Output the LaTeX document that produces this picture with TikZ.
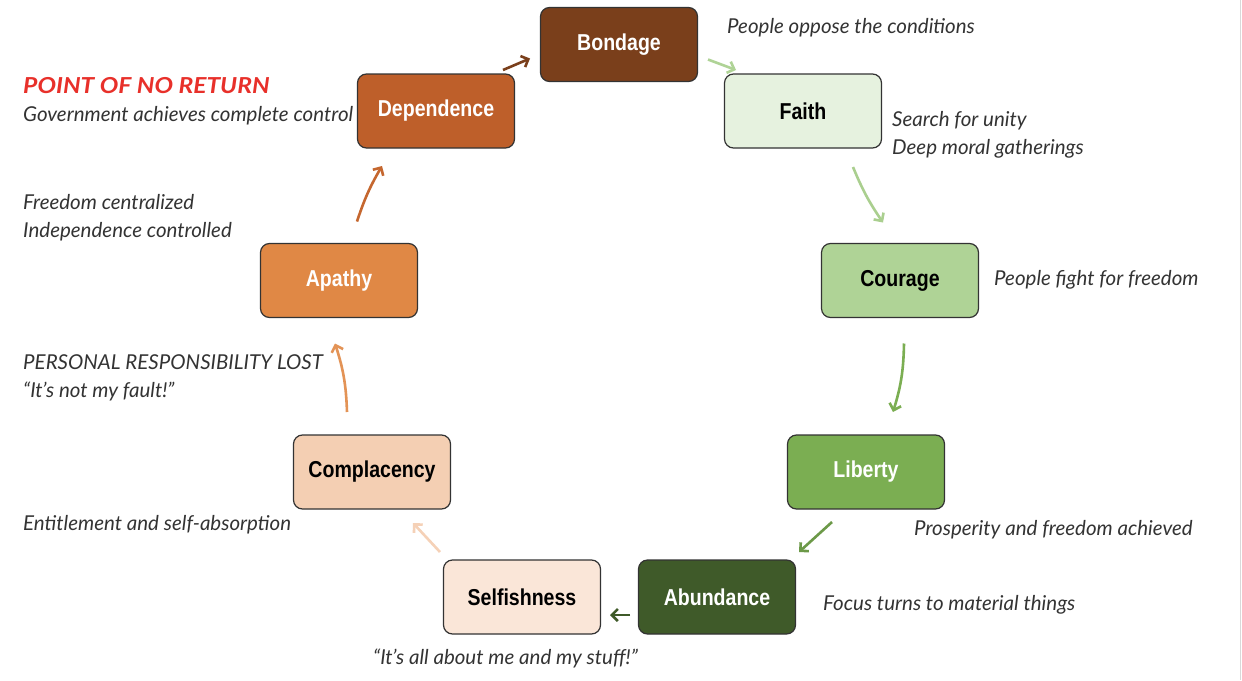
\documentclass[tikz,border=0pt]{standalone}
\usepackage{fontspec}
\usetikzlibrary{arrows.meta}
\newfontfamily\boxfont[FakeStretch=0.85]{Liberation Sans}
\newfontfamily\notefont{Lato}
\newfontfamily\returnfont[FakeStretch=1.12]{Lato}
\definecolor{bondageC}{HTML}{7A3F1B}
\definecolor{faithC}{HTML}{E6F2DF}
\definecolor{courageC}{HTML}{AFD396}
\definecolor{libertyC}{HTML}{7BAE52}
\definecolor{abundanceC}{HTML}{3F5A29}
\definecolor{selfishC}{HTML}{FAE6D8}
\definecolor{complacencyC}{HTML}{F4CFB3}
\definecolor{apathyC}{HTML}{E08845}
\definecolor{dependenceC}{HTML}{BE5F2A}
\definecolor{noteC}{HTML}{333333}
\definecolor{returnC}{HTML}{E8302A}

\begin{document}
\begin{tikzpicture}[x = 1pt, y = -1pt]
	\tikzstyle{stageStyle}=[shape = rectangle, rounded corners = 9pt, minimum width = 157pt, minimum height = 74pt, inner sep = 0pt, draw = black!80, line width = 1.2pt, font = \boxfont\bfseries\fontsize{23}{26}\selectfont]
	\tikzstyle{noteStyle}=[anchor = base west, align = left, inner sep = 0pt, text = noteC, font = \notefont\itshape\fontsize{20.5}{28}\selectfont]
	\tikzstyle{cycleArrow}=[line width = 2.6pt, -{Straight Barb[length = 6pt, width = 12pt]}]
	\fill[white] (0,0) rectangle (1242,680);
	\useasboundingbox (0,0) rectangle (1242,680);
	\draw[gray!30, line width = 1pt] (1240.5,0) -- (1240.5,680);
	% stages of the cycle
	\node[stageStyle, fill = bondageC, text = white] (bon) at (619,44.5) {Bondage};
	\node[stageStyle, fill = faithC] (fai) at (803,111) {Faith};
	\node[stageStyle, fill = courageC] (cou) at (900,280.5) {Courage};
	\node[stageStyle, fill = libertyC, text = white] (lib) at (866,472) {Liberty};
	\node[stageStyle, fill = abundanceC, text = white] (abu) at (717,597) {Abundance};
	\node[stageStyle, fill = selfishC] (sel) at (522,597) {Selfishness};
	\node[stageStyle, fill = complacencyC] (com) at (372,472) {Complacency};
	\node[stageStyle, fill = apathyC, text = white] (apa) at (339,280.5) {Apathy};
	\node[stageStyle, fill = dependenceC, text = white] (dep) at (436,111) {Dependence};
	% notes
	\node[noteStyle] (nBon) at (727,33) {People oppose the conditions};
	\node[noteStyle] (nFai) at (892,154) {Search for unity\\Deep moral gatherings};
	\node[noteStyle] (nCou) at (994,285) {People fight for freedom};
	\node[noteStyle] (nLib) at (914,535) {Prosperity and freedom achieved};
	\node[noteStyle] (nAbu) at (823,610) {Focus turns to material things};
	\node[noteStyle] (nSel) at (373,664) {“It’s all about me and my stuff!”};
	\node[noteStyle] (nCom) at (23,530) {Entitlement and self-absorption};
	\node[noteStyle] (nApa) at (23,397) {PERSONAL RESPONSIBILITY LOST\\“It’s not my fault!”};
	\node[noteStyle] (nDep) at (23,237) {Freedom centralized\\Independence controlled};
	\node[noteStyle, text = returnC, font = \returnfont\bfseries\itshape\fontsize{22}{28}\selectfont] (nRet) at (23,93) {POINT OF NO RETURN};
	\node[noteStyle] (nGov) at (23,121) {Government achieves complete control};
	% arrows
	\draw[cycleArrow, color = bondageC] ([shift={(67,-41)}]dep.center) -- ([shift={(-89,14)}]bon.center);
	\draw[cycleArrow, color = courageC] ([shift={(89,15)}]bon.center) -- ([shift={(-67,-41)}]fai.center);
	\draw[cycleArrow, color = courageC!90!libertyC] ([shift={(50,56)}]fai.center) to[bend right = 6] ([shift={(-17,-58)}]cou.center);
	\draw[cycleArrow, color = libertyC] ([shift={(4,63)}]cou.center) to[bend left = 8] ([shift={(27,-60)}]lib.center);
	\draw[cycleArrow, color = libertyC!75!abundanceC] ([shift={(-34,50)}]lib.center) -- ([shift={(82,-45)}]abu.center);
	\draw[cycleArrow, color = abundanceC] ([shift={(-87,18)}]abu.center) -- ([shift={(88,18)}]sel.center);
	\draw[cycleArrow, color = complacencyC!90!selfishC] ([shift={(-82,-45)}]sel.center) -- ([shift={(41,51)}]com.center);
	\draw[cycleArrow, color = apathyC!85!complacencyC] ([shift={(-25,-60)}]com.center) to[bend right = 8] ([shift={(-4,63)}]apa.center);
	\draw[cycleArrow, color = dependenceC!80!apathyC] ([shift={(18,-59)}]apa.center) to[bend left = 6] ([shift={(-54,55)}]dep.center);
\end{tikzpicture}
\end{document}
